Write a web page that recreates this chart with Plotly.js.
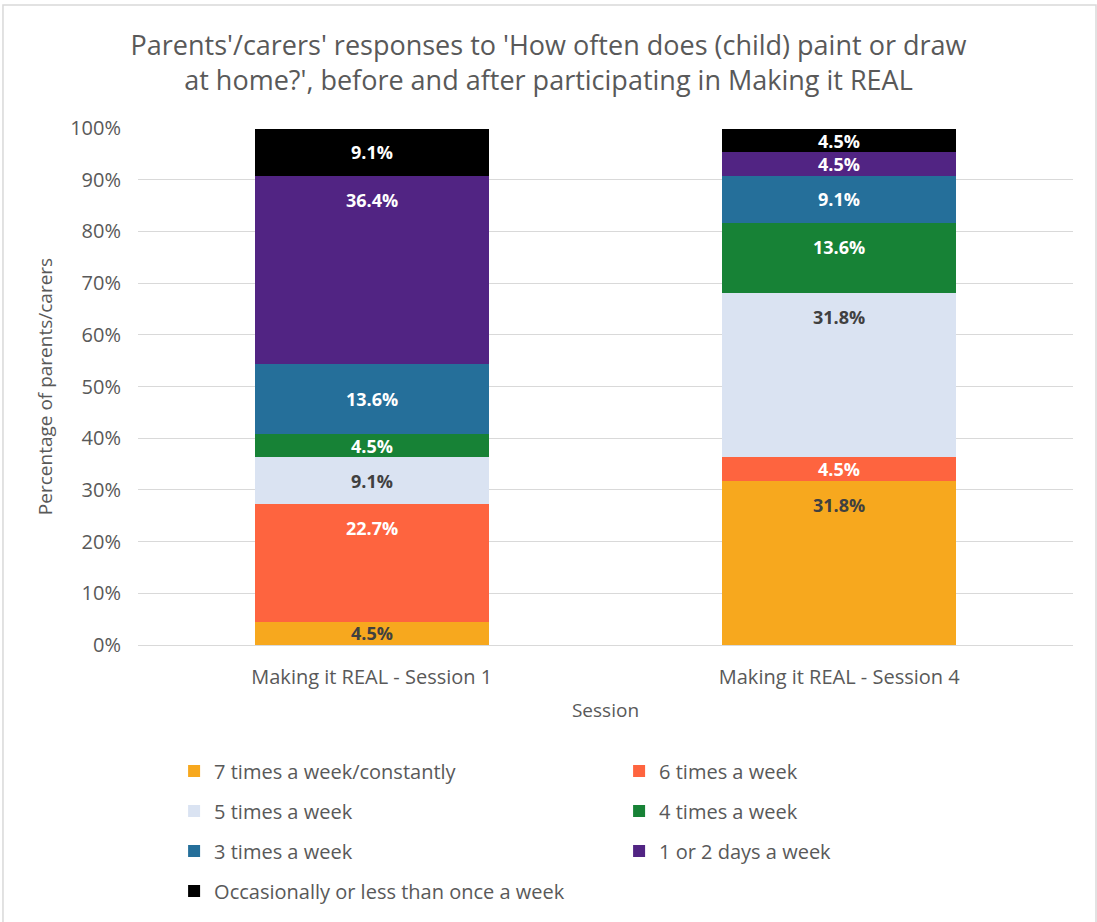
<!DOCTYPE html>
<html>
<head>
<meta charset="utf-8">
<script src="https://cdn.plot.ly/plotly-3.0.1.min.js"></script>
<style>
html,body{margin:0;padding:0;background:#fff;}
#chart{width:1097px;height:922px;}
</style>
</head>
<body>
<div id="chart"></div>
<script>
const sessions = ['Making it REAL - Session 1', 'Making it REAL - Session 4'];
const seriesNames = [
  '7 times a week/constantly',
  '6 times a week',
  '5 times a week',
  '4 times a week',
  '3 times a week',
  '1 or 2 days a week',
  'Occasionally or less than once a week'
];
const v7 = [4.5, 31.8];
const v6 = [22.7, 4.5];
const v5 = [9.1, 31.8];
const v4 = [4.5, 13.6];
const v3 = [13.6, 9.1];
const v12 = [36.4, 4.5];
const vOcc = [9.1, 4.5];
const seriesValues = [v7, v6, v5, v4, v3, v12, vOcc];
const colors = ['#F7A81E', '#FE643F', '#DAE3F2', '#178236', '#256F9A', '#512483', '#000000'];
const textColors = ['#404040', '#ffffff', '#404040', '#ffffff', '#ffffff', '#ffffff', '#ffffff'];
const labelAnchor = ['end', 'end', 'end', 'end', 'center', 'end', 'end'];
const legendIds = ['legend', 'legend', 'legend2', 'legend2', 'legend3', 'legend3', 'legend4'];
const FONT = '"Open Sans", "Noto Sans", sans-serif';

const traces = seriesNames.map((name, i) => ({
  type: 'bar',
  name: name,
  x: sessions,
  y: seriesValues[i],
  marker: {color: colors[i], line: {width: 0}},
  textposition: 'none',
  legend: legendIds[i],
  hoverinfo: 'name+y'
}));

// data labels, placed from the cumulative stack values
const LABEL_OFFSET = 4.65; // in axis units (~24px below the segment top)
const annotations = [];
sessions.forEach((s, j) => {
  let base = 0;
  seriesValues.forEach((vals, i) => {
    const v = vals[j];
    const top = base + v;
    const mid = base + v / 2;
    const yPos = labelAnchor[i] === 'end' ? Math.max(top - LABEL_OFFSET, mid) : mid;
    annotations.push({
      x: s, y: yPos, xref: 'x', yref: 'y',
      text: v.toFixed(1) + '%',
      showarrow: false,
      xanchor: 'center', yanchor: 'middle',
      font: {family: FONT, size: 18, color: textColors[i], weight: 'bold'}
    });
    base = top;
  });
});

const legendCommon = {
  orientation: 'h',
  traceorder: 'normal',
  x: 0.0386, xanchor: 'left',
  yanchor: 'middle',
  entrywidth: 400, entrywidthmode: 'pixels',
  itemwidth: 30,
  font: {family: FONT, size: 20, color: '#595959'},
  bgcolor: 'rgba(0,0,0,0)'
};
const rowY = px => (645 - px) / 517;

const layout = {
  width: 1097,
  height: 922,
  barmode: 'stack',
  bargap: 0.5,
  paper_bgcolor: '#ffffff',
  plot_bgcolor: '#ffffff',
  font: {family: FONT, color: '#595959'},
  margin: {l: 138, r: 24, t: 128, b: 277},
  title: {
    text: "Parents'/carers' responses to 'How often does (child) paint or draw<br>at home?', before and after participating in Making it REAL",
    font: {family: FONT, size: 27, color: '#595959'},
    x: 0.5, xanchor: 'center', xref: 'container',
    y: 1 - 55 / 922, yref: 'container', yanchor: 'middle'
  },
  xaxis: {
    title: {text: 'Session', font: {family: FONT, size: 19, color: '#595959'}, standoff: 14},
    tickfont: {family: FONT, size: 20, color: '#595959'},
    ticklabelstandoff: 14,
    showline: true, linecolor: '#d9d9d9', linewidth: 1,
    ticks: '', fixedrange: true
  },
  yaxis: {
    title: {text: 'Percentage of parents/carers', font: {family: FONT, size: 19, color: '#595959'}, standoff: 12},
    range: [0, 100],
    dtick: 10,
    ticksuffix: '%',
    tickfont: {family: FONT, size: 20, color: '#595959'},
    ticklabelstandoff: 16,
    gridcolor: '#d9d9d9', gridwidth: 1,
    zeroline: false, showline: false, ticks: '', ticklen: 0,
    fixedrange: true
  },
  showlegend: true,
  legend: Object.assign({}, legendCommon, {y: rowY(771)}),
  legend2: Object.assign({}, legendCommon, {y: rowY(811)}),
  legend3: Object.assign({}, legendCommon, {y: rowY(851)}),
  legend4: Object.assign({}, legendCommon, {y: rowY(891)}),
  annotations: annotations,
  shapes: [{
    type: 'rect', xref: 'paper', yref: 'paper',
    x0: -0.1444, x1: 1.0246, y0: -0.55, y1: 1.238,
    line: {color: '#d9d9d9', width: 1.5}, fillcolor: 'rgba(0,0,0,0)', layer: 'below'
  }]
};

Plotly.newPlot('chart', traces, layout, {displayModeBar: false, staticPlot: true});
</script>
</body>
</html>
